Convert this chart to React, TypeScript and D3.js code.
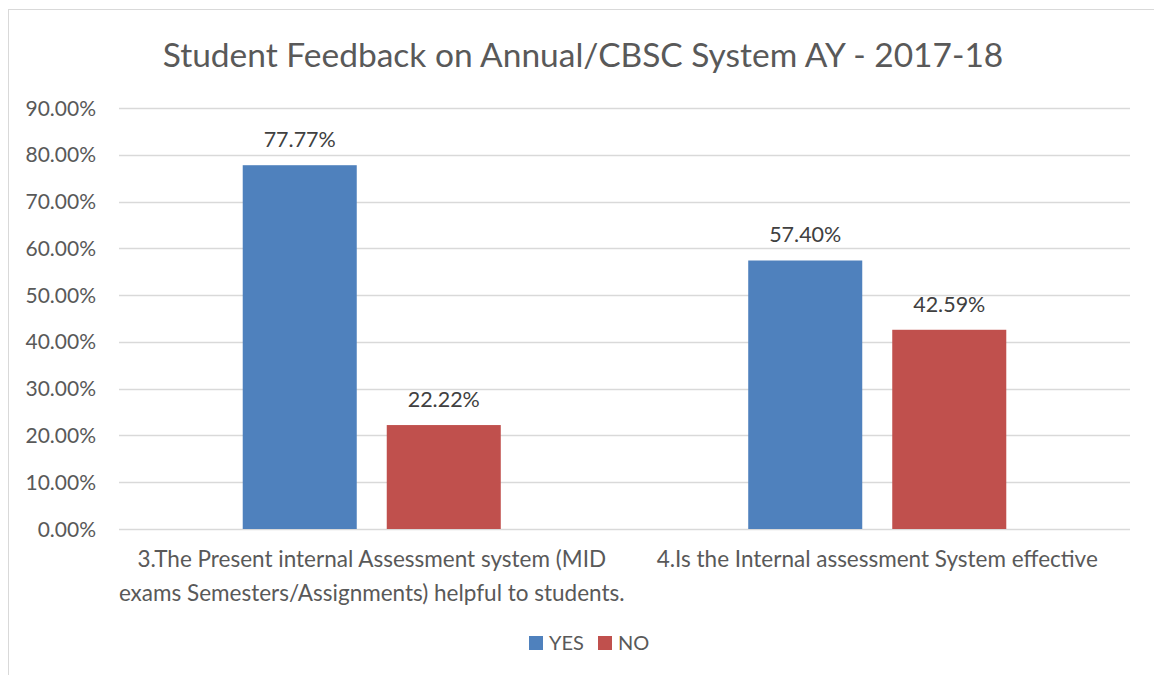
import * as d3 from "d3";

const categories = [
  ["3.The Present internal Assessment system (MID", "exams Semesters/Assignments) helpful to students."],
  ["4.Is the Internal assessment System effective"],
];
const seriesNames = ["YES", "NO"];
const yesValues = [77.77, 57.4];
const noValues = [22.22, 42.59];
const yTicks = [0, 10, 20, 30, 40, 50, 60, 70, 80, 90];

const W = 1154;
const H = 675;
const plot = { left: 119, right: 1130, top: 108, bottom: 529 };
const colors: Record<string, string> = { YES: "#4F81BD", NO: "#C0504D" };
const textColor = "#595959";
const font = "Lato, 'Open Sans', sans-serif";

export default function App() {
  const keys = categories.map((_, i) => String(i));
  const x0 = d3.scaleBand<string>().domain(keys).range([plot.left, plot.right]);
  const x1 = d3
    .scaleBand<string>()
    .domain(seriesNames)
    .range([0, x0.bandwidth()])
    .paddingInner(0.2083)
    .paddingOuter(0.859);
  const y = d3.scaleLinear().domain([0, 90]).range([plot.bottom, plot.top]);

  const rows = categories.map((_, i) => [
    { key: "YES", value: yesValues[i] },
    { key: "NO", value: noValues[i] },
  ]);

  return (
    <svg
      width={W}
      height={H}
      style={{ position: "absolute", left: 0, top: 0, background: "#fff" }}
      fontFamily={font}
    >
      <rect x={8.5} y={9.5} width={W} height={H} fill="#fff" stroke="#d9d9d9" />
      <text x={583} y={67} textAnchor="middle" fontSize={33.5} fill={textColor}>
        Student Feedback on Annual/CBSC System AY - 2017-18
      </text>

      {yTicks.map((t) => (
        <g key={t}>
          <line
            x1={plot.left}
            x2={plot.right}
            y1={Math.round(y(t)) + 0.5}
            y2={Math.round(y(t)) + 0.5}
            stroke="#d9d9d9"
            strokeWidth={1.5}
          />
          <text
            x={96}
            y={y(t)}
            dy="0.36em"
            textAnchor="end"
            fontSize={21}
            fill={textColor}
          >
            {t.toFixed(2) + "%"}
          </text>
        </g>
      ))}

      {rows.map((row, i) => (
        <g key={i} transform={`translate(${x0(String(i))},0)`}>
          {row.map((d) => (
            <g key={d.key}>
              <rect
                x={x1(d.key)}
                y={y(d.value)}
                width={x1.bandwidth()}
                height={plot.bottom - y(d.value)}
                fill={colors[d.key]}
              />
              <text
                x={(x1(d.key) ?? 0) + x1.bandwidth() / 2}
                y={y(d.value) - 18}
                textAnchor="middle"
                fontSize={21.5}
                fill="#404040"
              >
                {d.value.toFixed(2) + "%"}
              </text>
            </g>
          ))}
          {categories[i].map((line, j) => (
            <text
              key={j}
              x={x0.bandwidth() / 2}
              y={567 + j * 34}
              textAnchor="middle"
              fontSize={22.5}
              fill={textColor}
            >
              {line}
            </text>
          ))}
        </g>
      ))}

      {seriesNames.map((s, i) => {
        const lx = [529, 598][i];
        return (
          <g key={s}>
            <rect x={lx} y={636} width={14} height={14} fill={colors[s]} />
            <text x={lx + 20} y={650} fontSize={20} fill={textColor}>
              {s}
            </text>
          </g>
        );
      })}
    </svg>
  );
}
